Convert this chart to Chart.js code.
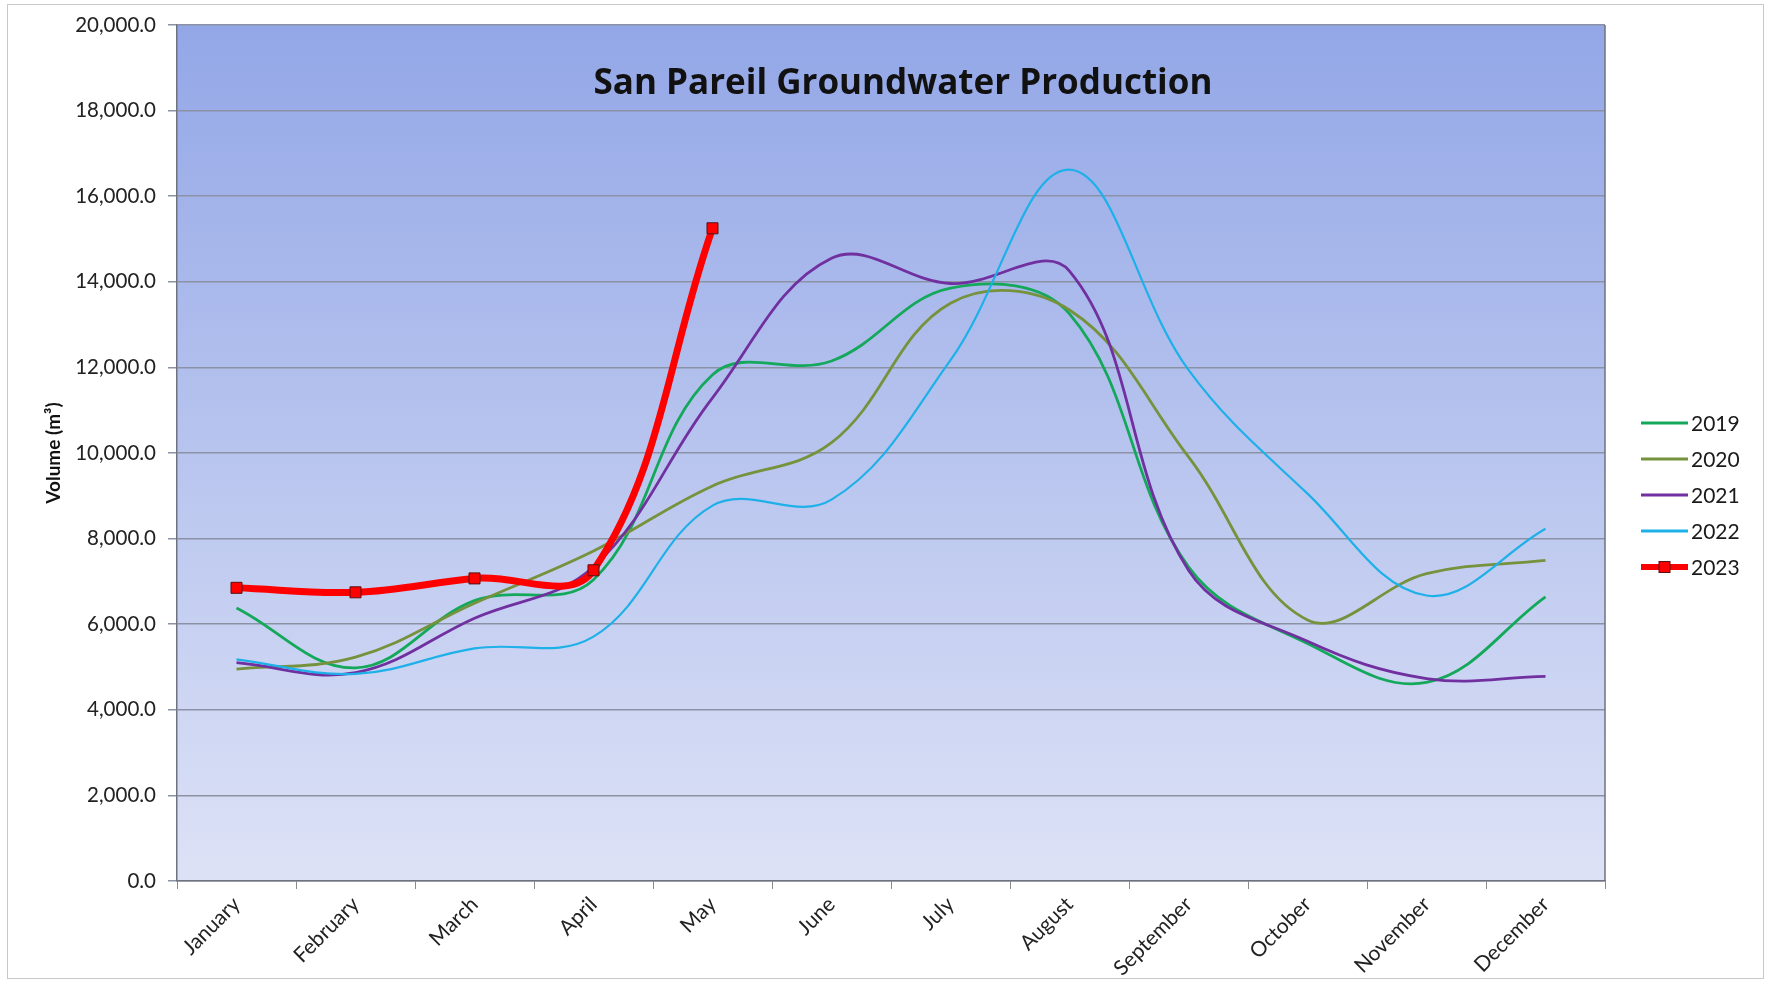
<!DOCTYPE html>
<html>
<head>
<meta charset="utf-8">
<title>San Pareil Groundwater Production</title>
<script src="https://cdn.jsdelivr.net/npm/chart.js@4.4.1/dist/chart.umd.min.js"></script>
<style>
  html, body { margin: 0; padding: 0; background: #fff; }
  #wrap { position: relative; width: 1769px; height: 984px; }
</style>
</head>
<body>
<div id="wrap"><canvas id="grafico"></canvas></div>
<script>
// datos (m3 por mes)
const months = ["January", "February", "March", "April", "May", "June",
                "July", "August", "September", "October", "November", "December"];
const years = ["2019", "2020", "2021", "2022", "2023"];

const vol2019 = [6380, 4980, 6550, 7040, 11830, 12150, 13850, 13250, 7340, 5550, 4640, 6640];
const vol2020 = [4950, 5230, 6490, 7710, 9230, 10240, 13500, 13340, 9910, 6100, 7180, 7490];
const vol2021 = [5100, 4870, 6140, 7340, 11290, 14550, 13960, 14250, 7260, 5600, 4730, 4780];
const vol2022 = [5180, 4840, 5435, 5710, 8770, 8910, 12170, 16620, 11940, 9050, 6670, 8230];
const vol2023 = [6850, 6745, 7070, 7260, 15250, null, null, null, null, null, null, null];

const yTickValues = [0, 2000, 4000, 6000, 8000, 10000, 12000, 14000, 16000, 18000, 20000];

const chartTitle = "San Pareil Groundwater Production";
const yAxisTitle = "Volume (m\u00b3)";

const FONT = "Lato, 'Open Sans', sans-serif";
const TITLE_FONT = "'Open Sans', Lato, sans-serif";

// fondo degradado, marco exterior y borde del area
const backgroundPlugin = {
  id: "fondo",
  beforeDraw(chart) {
    const { ctx, chartArea: a } = chart;
    ctx.save();
    ctx.fillStyle = "#ffffff";
    ctx.fillRect(0, 0, chart.width, chart.height);
    ctx.strokeStyle = "#c9c9c9";
    ctx.lineWidth = 1;
    ctx.strokeRect(7.5, 4.5, chart.width - 13, chart.height - 10);
    const g = ctx.createLinearGradient(0, a.top, 0, a.bottom);
    g.addColorStop(0, "#93a7e7");
    g.addColorStop(1, "#dde2f6");
    ctx.fillStyle = g;
    ctx.fillRect(a.left, a.top, a.right - a.left, a.bottom - a.top);
    ctx.restore();
  },
  beforeDatasetsDraw(chart) {
    const { ctx, chartArea: a } = chart;
    ctx.save();
    ctx.strokeStyle = "#6f7380";
    ctx.lineWidth = 1.5;
    ctx.beginPath();
    ctx.moveTo(a.right, a.top);
    ctx.lineTo(a.right, a.bottom);
    ctx.stroke();
    // titulo dentro del area
    ctx.fillStyle = "#111111";
    ctx.font = "bold 35px " + TITLE_FONT;
    ctx.textAlign = "center";
    ctx.textBaseline = "alphabetic";
    ctx.fillText(chartTitle, 903, 94);
    ctx.restore();
  }
};

// leyenda a la derecha (linea + marcador)
const legendPlugin = {
  id: "leyenda",
  afterDraw(chart) {
    const { ctx, chartArea: a } = chart;
    const x0 = a.right + 36, x1 = a.right + 83, tx = a.right + 86;
    const step = 36;
    const yStart = chart.height / 2 + 3 - 2 * step;
    ctx.save();
    ctx.font = "21px " + FONT;
    ctx.textAlign = "left";
    ctx.textBaseline = "middle";
    chart.data.datasets.forEach((ds, i) => {
      const y = yStart + i * step;
      ctx.strokeStyle = ds.borderColor;
      ctx.lineWidth = ds.legendWidth;
      ctx.lineCap = "butt";
      ctx.beginPath();
      ctx.moveTo(x0, y);
      ctx.lineTo(x1, y);
      ctx.stroke();
      if (ds.pointRadius > 0) {
        const s = 11;
        ctx.fillStyle = ds.pointBackgroundColor;
        ctx.fillRect((x0 + x1) / 2 - s / 2, y - s / 2, s, s);
        ctx.strokeStyle = ds.pointBorderColor;
        ctx.lineWidth = 1;
        ctx.strokeRect((x0 + x1) / 2 - s / 2, y - s / 2, s, s);
      }
      ctx.fillStyle = "#1a1a1a";
      ctx.fillText(ds.label, tx, y + 1);
    });
    ctx.restore();
  }
};

function serie(label, data, color, width, order) {
  return {
    label: label,
    data: data,
    borderColor: color,
    backgroundColor: color,
    borderWidth: width,
    legendWidth: 3,
    pointRadius: 0,
    pointHoverRadius: 0,
    tension: 0.38,
    fill: false,
    order: order
  };
}

const datasets = [
  serie(years[0], vol2019, "#14a85a", 2.8, 5),
  serie(years[1], vol2020, "#76923c", 2.8, 4),
  serie(years[2], vol2021, "#7030a0", 2.8, 3),
  serie(years[3], vol2022, "#1eb0e8", 2.2, 2),
  Object.assign(serie(years[4], vol2023, "#ff0000", 7, 1), {
    legendWidth: 6,
    pointRadius: 7.8,
    pointStyle: "rect",
    pointBackgroundColor: "#ff0000",
    pointBorderColor: "#5a1010",
    pointBorderWidth: 1,
    spanGaps: false
  })
];

const ctx = document.getElementById("grafico").getContext("2d");
new Chart(ctx, {
  type: "line",
  data: { labels: months, datasets: datasets },
  options: {
    responsive: true,
    maintainAspectRatio: false,
    animation: false,
    devicePixelRatio: 1,
    layout: { padding: { top: 25, right: 164, bottom: 0, left: 0 } },
    plugins: {
      legend: { display: false },
      title: { display: false },
      tooltip: { enabled: false }
    },
    scales: {
      x: {
        type: "category",
        offset: true,
        grid: {
          offset: true,
          drawOnChartArea: false,
          drawTicks: true,
          tickLength: 8,
          color: "#8a8a8a",
          lineWidth: 1
        },
        border: { display: true, color: "#6f7380", width: 1.5 },
        ticks: {
          autoSkip: false,
          minRotation: 45,
          maxRotation: 45,
          padding: 3,
          color: "#222222",
          font: { family: FONT, size: 21 }
        },
        afterFit(scale) { scale.height = 103; }
      },
      y: {
        min: 0,
        max: 20000,
        afterBuildTicks(scale) {
          scale.ticks = yTickValues.map(v => ({ value: v }));
        },
        grid: {
          color: "#8c92a6",
          lineWidth: 1.5,
          drawTicks: true,
          tickLength: 9
        },
        border: { display: true, color: "#6f7380", width: 1.5 },
        ticks: {
          padding: 12,
          color: "#222222",
          font: { family: FONT, size: 20.5 },
          callback: v => v.toLocaleString("en-US", { minimumFractionDigits: 1, maximumFractionDigits: 1 })
        },
        title: {
          display: true,
          text: yAxisTitle,
          color: "#111111",
          font: { family: FONT, size: 19, weight: "bold" },
          padding: { top: 42, bottom: 0 }
        },
        afterFit(scale) { scale.width = 177; }
      }
    }
  },
  plugins: [backgroundPlugin, legendPlugin]
});
</script>
</body>
</html>
